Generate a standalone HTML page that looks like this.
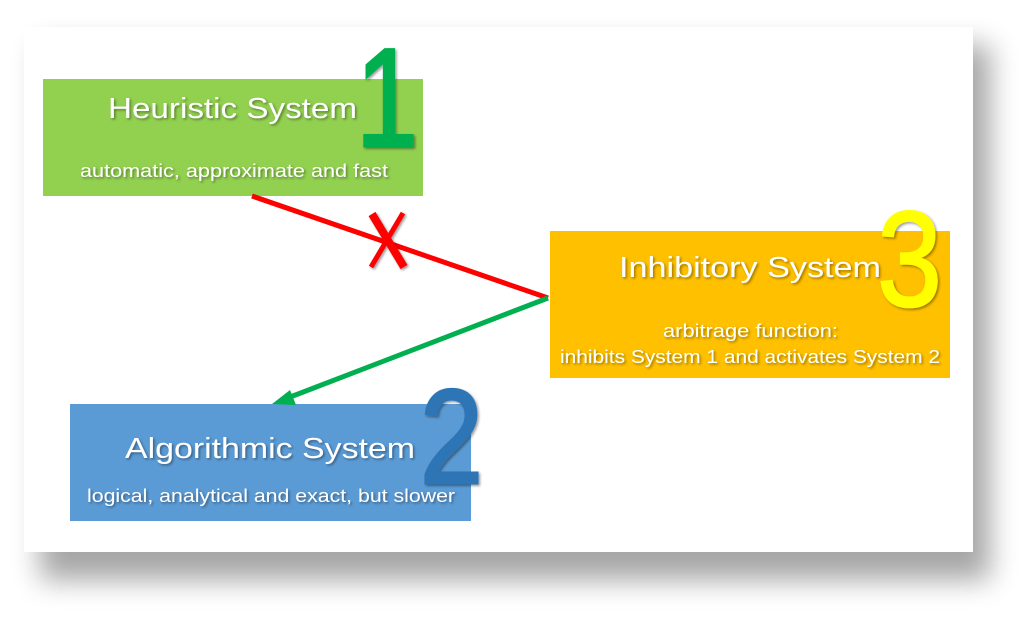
<!DOCTYPE html>
<html><head><meta charset="utf-8"><style>
html,body{margin:0;padding:0;background:#fff;}
body{width:1024px;height:616px;overflow:hidden;}
</style></head><body>
<svg width="1024" height="616" viewBox="0 0 1024 616" xmlns="http://www.w3.org/2000/svg" font-family="Liberation Sans, sans-serif">
<defs>
<filter id="sh" x="-10%" y="-10%" width="130%" height="140%"><feGaussianBlur stdDeviation="14"/></filter>
<filter id="ts" x="-10%" y="-10%" width="130%" height="140%"><feDropShadow dx="1.5" dy="1.5" stdDeviation="1.2" flood-color="#000" flood-opacity="0.4"/></filter>
</defs>
<rect x="40" y="45" width="950" height="535" fill="#000" opacity="0.35" filter="url(#sh)"/>
<rect x="24" y="27" width="949" height="525" fill="#fff"/>

<rect x="43" y="79" width="380" height="117" fill="#92d050"/>
<rect x="550" y="231" width="400" height="147" fill="#ffc000"/>
<rect x="70" y="404" width="401" height="117" fill="#5b9bd5"/>

<line x1="252" y1="196" x2="548" y2="298" stroke="#ff0000" stroke-width="5"/>
<line x1="548" y1="298" x2="285" y2="399" stroke="#00b050" stroke-width="5"/>
<polygon points="272,404 290,390 296,405" fill="#00b050"/>
<g stroke="#ff0000" filter="url(#ts)" stroke-linecap="butt">
<line x1="372" y1="214" x2="404" y2="267" stroke-width="8"/>
<line x1="403" y1="213" x2="371" y2="267" stroke-width="5"/>
</g>

<g fill="#fff" filter="url(#ts)">
<text x="108" y="118" font-size="29" textLength="249" lengthAdjust="spacingAndGlyphs">Heuristic System</text>
<text x="80" y="177" font-size="18" textLength="308" lengthAdjust="spacingAndGlyphs">automatic, approximate and fast</text>
<text x="619" y="277" font-size="29" textLength="262" lengthAdjust="spacingAndGlyphs">Inhibitory System</text>
<text x="663" y="337" font-size="18" textLength="175" lengthAdjust="spacingAndGlyphs">arbitrage function:</text>
<text x="560" y="363" font-size="18" textLength="380" lengthAdjust="spacingAndGlyphs">inhibits System 1 and activates System 2</text>
<text x="125" y="458" font-size="29" textLength="290" lengthAdjust="spacingAndGlyphs">Algorithmic System</text>
<text x="87" y="502" font-size="18" textLength="368" lengthAdjust="spacingAndGlyphs">logical, analytical and exact, but slower</text>
</g>
<g filter="url(#ts)">
<text x="356" y="146" font-size="140" fill="#00b050" stroke="#00b050" stroke-width="3" textLength="62" lengthAdjust="spacingAndGlyphs">1</text>
<text x="877" y="306" font-size="136" fill="#ffff00" stroke="#ffff00" stroke-width="2" textLength="65" lengthAdjust="spacingAndGlyphs">3</text>
<text x="420" y="483" font-size="134" fill="#2e75b6" stroke="#2e75b6" stroke-width="3" textLength="63" lengthAdjust="spacingAndGlyphs">2</text>
</g>
</svg>
</body></html>
